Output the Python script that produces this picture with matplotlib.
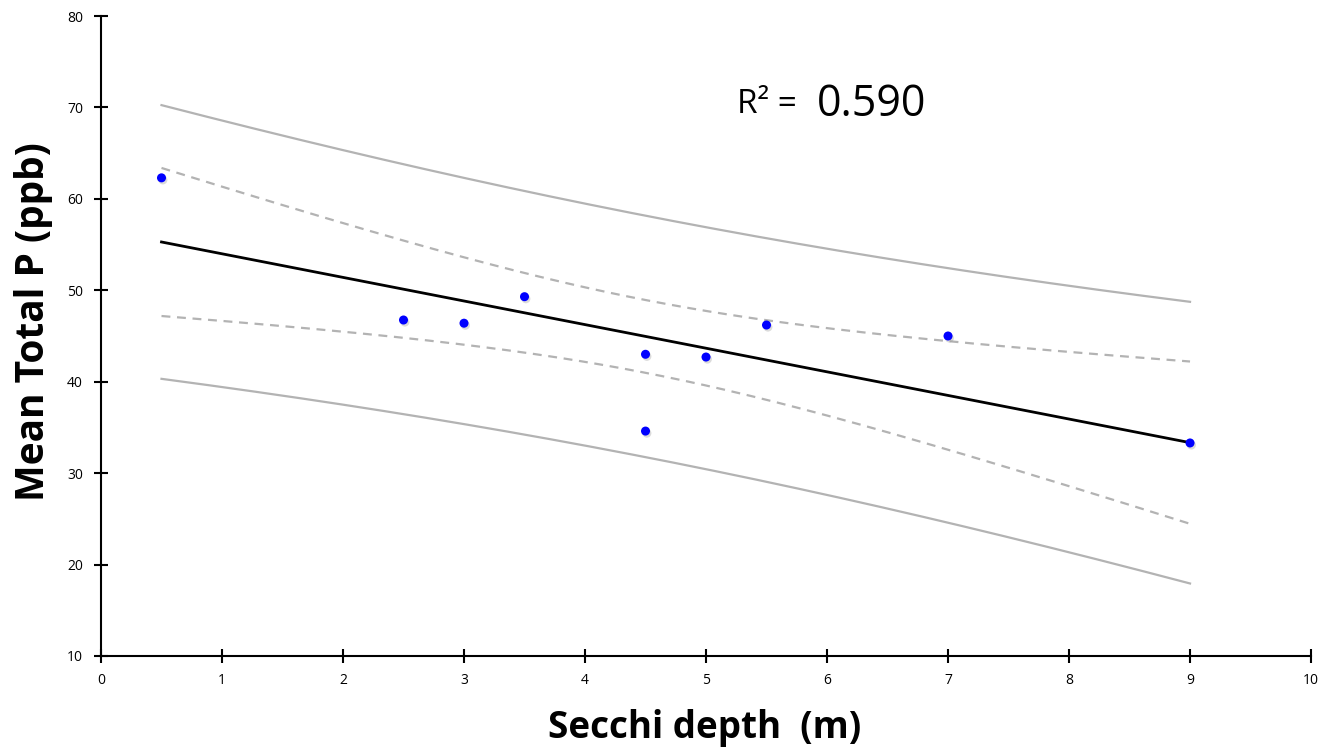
import numpy as np
import matplotlib
matplotlib.use("Agg")
import matplotlib.pyplot as plt
import matplotlib.patheffects as pe

# Secchi depth (m) vs mean total P (ppb)
secchi = [0.5, 2.5, 3.0, 3.5, 4.5, 4.5, 5.0, 5.5, 7.0, 9.0]
total_p = [62.3, 46.75, 46.4, 49.3, 43.0, 34.6, 42.7, 46.2, 45.0, 33.3]
x_ticks = [0, 1, 2, 3, 4, 5, 6, 7, 8, 9, 10]
y_ticks = [10, 20, 30, 40, 50, 60, 70, 80]
r2_label = "R\u00b2 ="
r2_value = "0.590"

plt.rcParams['font.family'] = ['Open Sans', 'DejaVu Sans']

x = np.array(secchi)
y = np.array(total_p)
n = len(x)

# linear fit with 95% confidence and prediction bands
slope, intercept = np.polyfit(x, y, 1)
resid = y - (slope * x + intercept)
s = np.sqrt(np.sum(resid ** 2) / (n - 2))
t_val = 2.306  # t(0.975, df=8)
sxx = np.sum((x - x.mean()) ** 2)

xf = np.linspace(x.min(), x.max(), 200)
yf = slope * xf + intercept
conf = t_val * s * np.sqrt(1 / n + (xf - x.mean()) ** 2 / sxx)
pred = t_val * s * np.sqrt(1 + 1 / n + (xf - x.mean()) ** 2 / sxx)

fig = plt.figure(figsize=(13.22, 7.49), dpi=100)
ax = fig.add_axes([0.0764, 0.1242, 0.9153, 0.8544])

band_col = '#b3b3b3'
ax.plot(xf, yf + pred, color=band_col, lw=1.6)
ax.plot(xf, yf - pred, color=band_col, lw=1.6)
ax.plot(xf, yf + conf, color=band_col, lw=1.6, ls=(0, (4, 3)))
ax.plot(xf, yf - conf, color=band_col, lw=1.6, ls=(0, (4, 3)))
ax.plot(xf, yf, color='black', lw=2)

ax.plot(x, y, 'o', color='#0000ff', markersize=6.5, markeredgewidth=0, zorder=5,
        path_effects=[pe.SimplePatchShadow(offset=(1, -1.5), shadow_rgbFace='#999999', alpha=0.35),
                      pe.Normal()])

ax.set_xlim(0, 10)
ax.set_ylim(10, 80)
ax.set_xticks(x_ticks)
ax.set_yticks(y_ticks)
for side in ['top', 'right']:
    ax.spines[side].set_visible(False)
for side in ['left', 'bottom']:
    ax.spines[side].set_linewidth(1.5)
ax.tick_params(direction='inout', length=10, width=1.5, labelsize=10)
ax.tick_params(axis='x', pad=7)
ax.tick_params(axis='y', pad=8)

ax.set_xlabel('Secchi depth  (m)', fontsize=26.5, fontweight='bold', va='center')
ax.set_ylabel('Mean Total P (ppb)', fontsize=28, fontweight='bold', va='center')
ax.xaxis.set_label_coords(0.499, -0.1125)
ax.yaxis.set_label_coords(-0.056, 0.522)

ax.text(0.526, 0.862, r2_label, transform=ax.transAxes, fontsize=24, va='center', ha='left')
ax.text(0.592, 0.862, r2_value, transform=ax.transAxes, fontsize=31, va='center', ha='left')

fig.savefig('out.png', dpi=100)
